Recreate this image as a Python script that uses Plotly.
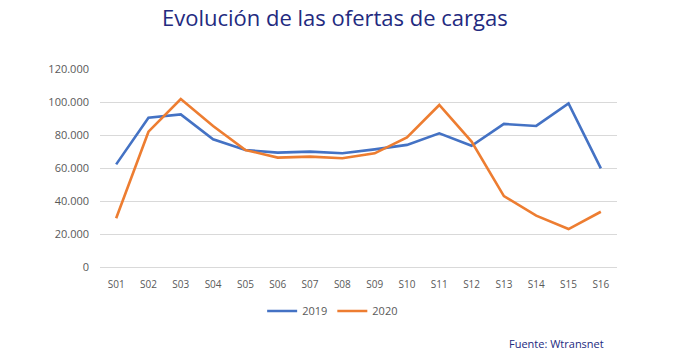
import plotly.graph_objects as go

weeks = ["S01","S02","S03","S04","S05","S06","S07","S08","S09","S10","S11","S12","S13","S14","S15","S16"]
v2019 = [62200, 90500, 92500, 77400, 70900, 69300, 69900, 68900, 71300, 74000, 81000, 73500, 86700, 85500, 99200, 59800]
v2020 = [29500, 82000, 101800, 85500, 70900, 66300, 66900, 65900, 68900, 78600, 98200, 76000, 43000, 31100, 23000, 33500]
yticks = [0, 20000, 40000, 60000, 80000, 100000, 120000]

fig = go.Figure()
fig.add_trace(go.Scatter(x=weeks, y=v2019, mode="lines", name="2019",
                         line=dict(color="#4472C4", width=2.6)))
fig.add_trace(go.Scatter(x=weeks, y=v2020, mode="lines", name="2020",
                         line=dict(color="#ED7D31", width=2.6)))

fig.update_layout(
    width=682, height=351,
    margin=dict(l=100, r=65, t=69, b=84),
    paper_bgcolor="white", plot_bgcolor="white",
    separators=",.",
    title=dict(text="Evolución de las ofertas de cargas", x=0.491, xanchor="center",
               y=0.949, yanchor="middle",
               font=dict(family="Open Sans", size=22, color="#232a80")),
    font=dict(family="Open Sans", color="#595959", size=11),
    showlegend=True,
    legend=dict(orientation="h", x=0.45, xanchor="center", y=-0.222, yanchor="middle",
                font=dict(size=11, color="#595959"), itemwidth=30),
    xaxis=dict(type="category", range=[-0.5, 15.5], showgrid=False, showline=False, ticks="",
               ticklabelstandoff=10,
               tickfont=dict(size=10, color="#595959")),
    yaxis=dict(range=[0, 120000], tickvals=yticks, tickformat=",d",
               showgrid=True, gridcolor="#d9d9d9", gridwidth=1,
               zeroline=True, zerolinecolor="#d9d9d9", zerolinewidth=1,
               showline=False, ticks="", ticklabelstandoff=10,
               tickfont=dict(size=11, color="#595959")),
    annotations=[dict(text="Fuente: Wtransnet", xref="paper", yref="paper",
                      x=0.979, y=-0.384, xanchor="right", yanchor="middle",
                      showarrow=False, font=dict(family="Open Sans", size=11, color="#232a80"))],
)

fig.write_html("out.html")
